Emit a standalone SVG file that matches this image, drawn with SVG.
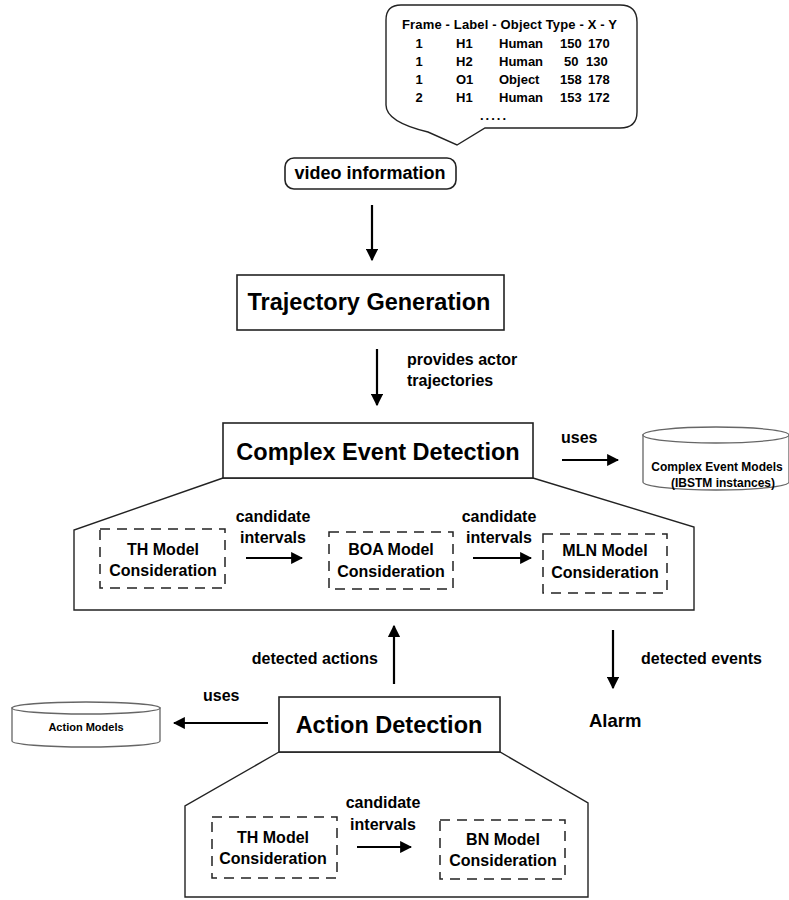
<svg xmlns="http://www.w3.org/2000/svg" width="789" height="900" viewBox="0 0 789 900">
  <style>
    text { font-family: "Liberation Sans", Arial, sans-serif; font-weight: bold; fill: #000; }
    .box { fill: #fff; stroke: #222; stroke-width: 1.6; }
    .frame { fill: #fff; stroke: #222; stroke-width: 1.4; }
    .dash { fill: none; stroke: #222; stroke-width: 1.5; stroke-dasharray: 10 7; }
    .db { fill: #fff; stroke: #666; stroke-width: 1.3; }
    .title { font-size: 23.5px; text-anchor: middle; }
    .lbl { font-size: 16px; }
    .mid { text-anchor: middle; }
    .tbl { font-size: 13px; }
    .link { stroke: #000; stroke-width: 2.2; fill: none; marker-end: url(#head); }
  </style>
  <defs>
    <marker id="head" viewBox="0 0 10 10" refX="9" refY="5" markerWidth="5.5" markerHeight="5.5" orient="auto" markerUnits="strokeWidth">
      <path d="M0,0 L10,5 L0,10 Z" fill="#000"/>
    </marker>
  </defs>

  <rect width="789" height="900" fill="#fff"/>

  <!-- callout with the per-frame object table -->
  <g id="video-table">
    <path class="frame" d="M401,5 L620,5 Q637,5 637,22 L637,112 Q637,128 620,128 L485,128 L457,145 L428,132 Q386,122 386,105 L386,20 Q386,5 401,5 Z"/>
    <text class="tbl" x="402" y="29" textLength="215" lengthAdjust="spacing">Frame - Label - Object Type - X  - Y</text>
    <g class="tbl">
      <text class="tbl mid" x="419" y="48">1</text>
      <text class="tbl" x="456" y="48">H1</text>
      <text class="tbl" x="499" y="48">Human</text>
      <text class="tbl" x="560" y="48">150</text>
      <text class="tbl" x="588" y="48">170</text>

      <text class="tbl mid" x="419" y="66">1</text>
      <text class="tbl" x="456" y="66">H2</text>
      <text class="tbl" x="499" y="66">Human</text>
      <text class="tbl" x="564" y="66">50</text>
      <text class="tbl" x="586" y="66">130</text>

      <text class="tbl mid" x="419" y="84">1</text>
      <text class="tbl" x="456" y="84">O1</text>
      <text class="tbl" x="499" y="84">Object</text>
      <text class="tbl" x="560" y="84">158</text>
      <text class="tbl" x="588" y="84">178</text>

      <text class="tbl mid" x="419" y="102">2</text>
      <text class="tbl" x="456" y="102">H1</text>
      <text class="tbl" x="499" y="102">Human</text>
      <text class="tbl" x="560" y="102">153</text>
      <text class="tbl" x="588" y="102">172</text>
    </g>
    <text class="tbl" x="480" y="120" letter-spacing="2">.....</text>
  </g>

  <g id="video-information">
    <rect class="box" x="285" y="158" width="171" height="31" rx="9"/>
    <text x="370" y="179" font-size="18" text-anchor="middle">video information</text>
  </g>

  <g id="trajectory-generation">
    <rect class="box" x="237" y="275" width="267" height="55"/>
    <text class="title" x="369" y="310">Trajectory Generation</text>
  </g>

  <g id="complex-event-detection">
    <polygon class="frame" points="223,478 74,530 74,610 694,610 694,527 533,478"/>
    <rect class="box" x="223" y="423" width="310" height="55"/>
    <text class="title" x="378" y="460">Complex Event Detection</text>
  </g>

  <g id="ced-th-model">
    <rect class="dash" x="100" y="529" width="125" height="59"/>
    <text class="lbl mid" x="163" y="555">TH Model</text>
    <text class="lbl mid" x="163" y="576">Consideration</text>
  </g>

  <g id="ced-boa-model">
    <rect class="dash" x="329" y="532" width="124" height="57"/>
    <text class="lbl mid" x="391" y="555">BOA Model</text>
    <text class="lbl mid" x="391" y="577">Consideration</text>
  </g>

  <g id="ced-mln-model">
    <rect class="dash" x="543" y="534" width="124" height="59"/>
    <text class="lbl mid" x="605" y="556">MLN Model</text>
    <text class="lbl mid" x="605" y="578">Consideration</text>
  </g>

  <g id="complex-event-models">
    <path class="db" d="M643,435 L643,482 A73,8 0 0 0 789,482 L789,435 Z"/>
    <ellipse class="db" cx="716" cy="435" rx="73" ry="8"/>
    <text x="717" y="471" font-size="12" text-anchor="middle">Complex Event Models</text>
    <text x="723" y="487" font-size="12" text-anchor="middle">(IBSTM instances)</text>
  </g>

  <g id="action-detection">
    <polygon class="frame" points="279,752 185,806 185,897 588,897 588,803 500,752"/>
    <rect class="box" x="279" y="697" width="221" height="55"/>
    <text class="title" x="389" y="733">Action Detection</text>
  </g>

  <g id="ad-th-model">
    <rect class="dash" x="212" y="817" width="125" height="61"/>
    <text class="lbl mid" x="273" y="843">TH Model</text>
    <text class="lbl mid" x="273" y="864">Consideration</text>
  </g>

  <g id="ad-bn-model">
    <rect class="dash" x="440" y="820" width="125" height="59"/>
    <text class="lbl mid" x="503" y="845">BN Model</text>
    <text class="lbl mid" x="503" y="866">Consideration</text>
  </g>

  <g id="action-models">
    <path class="db" d="M12,708 L12,741 A74,6 0 0 0 160,741 L160,708 Z"/>
    <ellipse class="db" cx="86" cy="708" rx="74" ry="6"/>
    <text x="86" y="731" font-size="11" text-anchor="middle">Action Models</text>
  </g>

  <g id="alarm">
    <text x="589" y="727" font-size="18.5">Alarm</text>
  </g>

  <!-- connectors and their labels -->
  <g id="connectors">
    <line class="link" x1="372" y1="205" x2="372" y2="260"/>
    <line class="link" x1="377" y1="349" x2="377" y2="405"/>
    <line class="link" x1="562" y1="460" x2="618" y2="460"/>
    <line class="link" x1="246" y1="558" x2="302" y2="558"/>
    <line class="link" x1="473" y1="558" x2="531" y2="558"/>
    <line class="link" x1="394" y1="684" x2="394" y2="626"/>
    <line class="link" x1="613" y1="630" x2="613" y2="688"/>
    <line class="link" x1="268" y1="723" x2="174" y2="723"/>
    <line class="link" x1="357" y1="847" x2="411" y2="847"/>

    <text class="lbl" x="407" y="365">provides actor</text>
    <text class="lbl" x="407" y="386">trajectories</text>
    <text class="lbl" x="561" y="443">uses</text>
    <text class="lbl mid" x="273" y="522">candidate</text>
    <text class="lbl mid" x="273" y="543">intervals</text>
    <text class="lbl mid" x="499" y="522">candidate</text>
    <text class="lbl mid" x="499" y="543">intervals</text>
    <text class="lbl" x="378" y="664" text-anchor="end">detected actions</text>
    <text class="lbl" x="641" y="664">detected events</text>
    <text class="lbl" x="203" y="701">uses</text>
    <text class="lbl mid" x="383" y="808">candidate</text>
    <text class="lbl mid" x="383" y="830">intervals</text>
  </g>
</svg>
